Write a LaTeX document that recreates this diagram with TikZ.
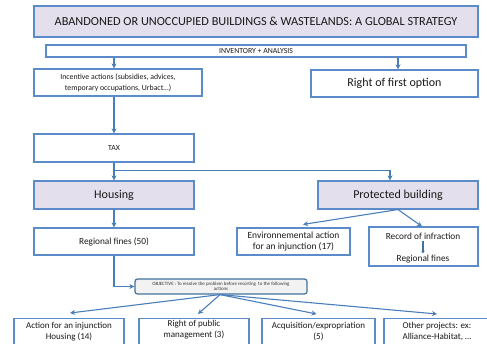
\documentclass[tikz,border=0pt]{standalone}
\usepackage{fontspec}
\setmainfont{Carlito}
\usetikzlibrary{arrows.meta,calc}
\definecolor{bord}{HTML}{5B8BC9}
\definecolor{lav}{HTML}{E4DFEC}
\definecolor{ln}{HTML}{4A7EBB}
\definecolor{objb}{HTML}{41719C}
\tikzset{
  box/.style={draw=bord,line width=1.1pt,inner sep=0pt,align=center,text=black!90},
  hbox/.style={box,fill=lav},
  arr/.style={draw=ln,line width=1.1pt,-{Stealth[length=5pt,width=5pt]}},
  txt/.style={text=black!90,align=center,inner sep=0pt}
}
\begin{document}
\begin{tikzpicture}[x=1pt,y=-1pt]
\useasboundingbox (0,0) rectangle (487,344);
\clip (0,0) rectangle (487,344);
\node[hbox,minimum width=444,minimum height=31,font=\fontsize{12.3}{14}\selectfont] (title) at (256,21.5) {ABANDONED OR UNOCCUPIED BUILDINGS \& WASTELANDS: A GLOBAL STRATEGY};
\node[box,minimum width=420,minimum height=12,font=\fontsize{7.8}{8}\selectfont] (inv) at (256,51) {INVENTORY + ANALYSIS};
\node[box,minimum width=168,minimum height=27,font=\fontsize{7.8}{11}\selectfont] (inc) at (118,82.5) {Incentive actions (subsidies, advices,\\temporary occupations, Urbact…)};
\node[box,minimum width=167,minimum height=27,font=\fontsize{12}{14}\selectfont] (rfo) at (394.5,83.5) {Right of first option};
\node[box,minimum width=160,minimum height=28,font=\fontsize{7.8}{9}\selectfont] (tax) at (114,148) {TAX};
\node[hbox,minimum width=160,minimum height=28,font=\fontsize{12}{14}\selectfont] (hous) at (114,195) {Housing};
\node[hbox,minimum width=160,minimum height=28,font=\fontsize{12}{14}\selectfont] (prot) at (398,195) {Protected building};
\node[box,minimum width=160,minimum height=27,font=\fontsize{9.3}{11}\selectfont] (regf) at (114,241.5) {Regional fines (50)};
\node[box,minimum width=113,minimum height=27,font=\fontsize{9.5}{11.5}\selectfont] (env) at (293.5,241.5) {Environnemental action\\for an injunction (17)};
\node[box,minimum width=109,minimum height=39] (rec) at (423.5,246.5) {};
\node[txt,font=\fontsize{9.3}{11}\selectfont] (rec1) at (423,236) {Record of infraction};
\node[txt,font=\fontsize{9.3}{11}\selectfont] (rec2) at (423,259) {Regional fines};
\draw[draw=objb,line width=1.6pt,-{Stealth[length=2.5pt,width=3.5pt]}] ($(rec1.south)+(0,1.5)$) -- ($(rec2.north)+(0,-1.5)$);
\node[box,draw=objb,line width=1.2pt,fill=black!5,rounded corners=2.5pt,minimum width=172,minimum height=15,font=\fontsize{4.9}{5.6}\selectfont,text=black!80] (obj) at (221,286.5) {OBJECTIVE : To resolve the problem before resorting\ \ to the following\\actions};
\node[box,minimum width=110,minimum height=42,anchor=north] (b1) at (69,318) {};
\node[box,minimum width=110,minimum height=42,anchor=north] (b2) at (194,318) {};
\node[box,minimum width=113,minimum height=42,anchor=north] (b3) at (318.5,318) {};
\node[box,minimum width=110,minimum height=42,anchor=north] (b4) at (439,318) {};
\node[txt,font=\fontsize{9}{11}\selectfont,anchor=north] at ($(b1.north)+(0,4)$) {Action for an injunction\\Housing (14)};
\node[txt,font=\fontsize{9}{11}\selectfont,anchor=north] at ($(b2.north)+(0,2.5)$) {Right of public\\management (3)};
\node[txt,font=\fontsize{9}{11}\selectfont,anchor=north] at ($(b3.north)+(0,4)$) {Acquisition/expropriation\\(5)};
\node[txt,font=\fontsize{9}{11}\selectfont,anchor=north] at ($(b4.north)+(-2,4)$) {Other projects: ex:\\Alliance-Habitat, …};
% connectors
\draw[arr] (inv.south -| tax) -- (inc.north -| tax);
\draw[arr] (inv.south -| prot) -- (rfo.north -| prot);
\draw[arr] (inc.south -| tax) -- (tax.north);
\draw[arr] (tax.south) -- (hous.north);
\coordinate (pbt) at ($(prot.north)+(-8,0)$);
\draw[arr] ($(tax.south)!0.42!(hous.north)$) -| (pbt);
\draw[arr] (hous.south) -- (regf.north);
\coordinate (po) at (prot.south);
\coordinate (ent) at ($(env.north)+(9.5,-3)$);
\coordinate (rct) at ($(rec.north)+(-1.5,0)$);
\draw[arr] (po) -- (ent);
\draw[arr] (po) -- (rct);
\draw[arr] (regf.south) |- (obj.west);
\coordinate (os) at ($(obj.south)+(-1,0)$);
\draw[arr] (os) -- ($(b1.north)+(1,-5)$);
\draw[arr] (os) -- ($(b2.north)+(4,-4)$);
\draw[arr] (os) -- ($(b3.north)+(-2,-4)$);
\draw[arr] (os) -- ($(b4.north)+(-2,-4)$);
\end{tikzpicture}
\end{document}
